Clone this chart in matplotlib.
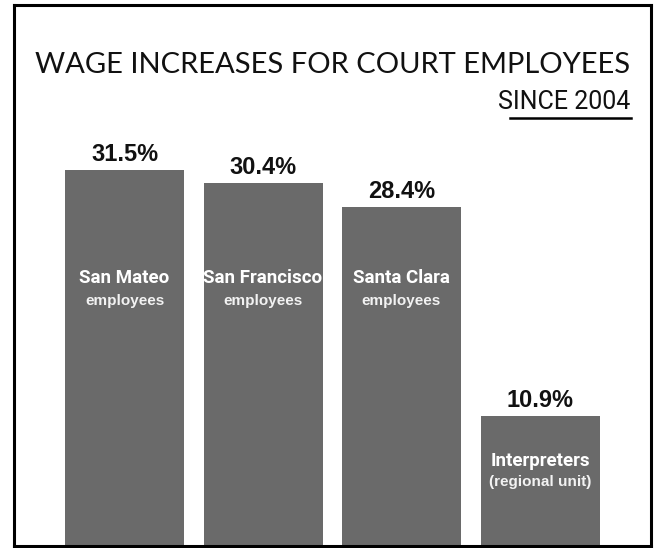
import matplotlib
matplotlib.use("Agg")
import matplotlib.pyplot as plt
from matplotlib.lines import Line2D

# Data
groups = ["San Mateo", "San Francisco", "Santa Clara", "Interpreters"]
subtitles = ["employees", "employees", "employees", "(regional unit)"]
increases = [31.5, 30.4, 28.4, 10.9]

W, H = 655, 548
fig = plt.figure(figsize=(W / 100, H / 100), dpi=100)
fig.patch.set_facecolor("white")

# Frame coordinates in pixels (left, right, top, bottom)
fl, fr, ft, fb = 14, 651, 5, 546
ax = fig.add_axes([fl / W, (H - fb) / H, (fr - fl) / W, (fb - ft) / H])

px_per_unit = 11.94
step = 138.5
first_center = 124.5
x = list(range(len(groups)))
ax.bar(x, increases, width=119 / step, color="#6a6a6a", edgecolor="none")

ax.set_xlim(-(first_center - fl) / step, (fr - first_center) / step)
ax.set_ylim(0, (fb - ft) / px_per_unit)
ax.set_xticks([])
ax.set_yticks([])
for s in ax.spines.values():
    s.set_linewidth(2.2)
    s.set_color("black")

cond = ["Roboto", "DejaVu Sans"]
arial = ["Liberation Sans", "DejaVu Sans"]

for xi, v, g, sub in zip(x, increases, groups, subtitles):
    ax.annotate(f"{v}%", (xi, v), xytext=(0, 3), textcoords="offset points",
                ha="center", va="bottom", fontsize=17, fontweight="bold",
                family=arial, color="#111111")
    if v > 20:
        y_main = (fb - 278) / px_per_unit
        y_sub = (fb - 301) / px_per_unit
    else:
        y_main = (fb - 461) / px_per_unit
        y_sub = (fb - 482) / px_per_unit
    ax.text(xi, y_main, g, ha="center", va="center", fontsize=13.5,
            fontweight="bold", family=cond, color="white")
    ax.text(xi, y_sub, sub, ha="center", va="center", fontsize=11,
            fontweight="bold", family=arial, color="#f2f2f2")

# Headline
fig.text(333 / W, 1 - 65 / H, "WAGE INCREASES FOR COURT EMPLOYEES",
         ha="center", va="center", fontsize=21, family=["Lato", "DejaVu Sans"],
         color="#111111")
fig.text(630 / W, 1 - 102 / H, "SINCE 2004", ha="right", va="center",
         fontsize=18, family=cond, color="#111111")
fig.add_artist(Line2D([510 / W, 631 / W], [1 - 118 / H, 1 - 118 / H],
                      transform=fig.transFigure, color="black", lw=1.8))

fig.savefig("out.png", dpi=100, facecolor="white")
